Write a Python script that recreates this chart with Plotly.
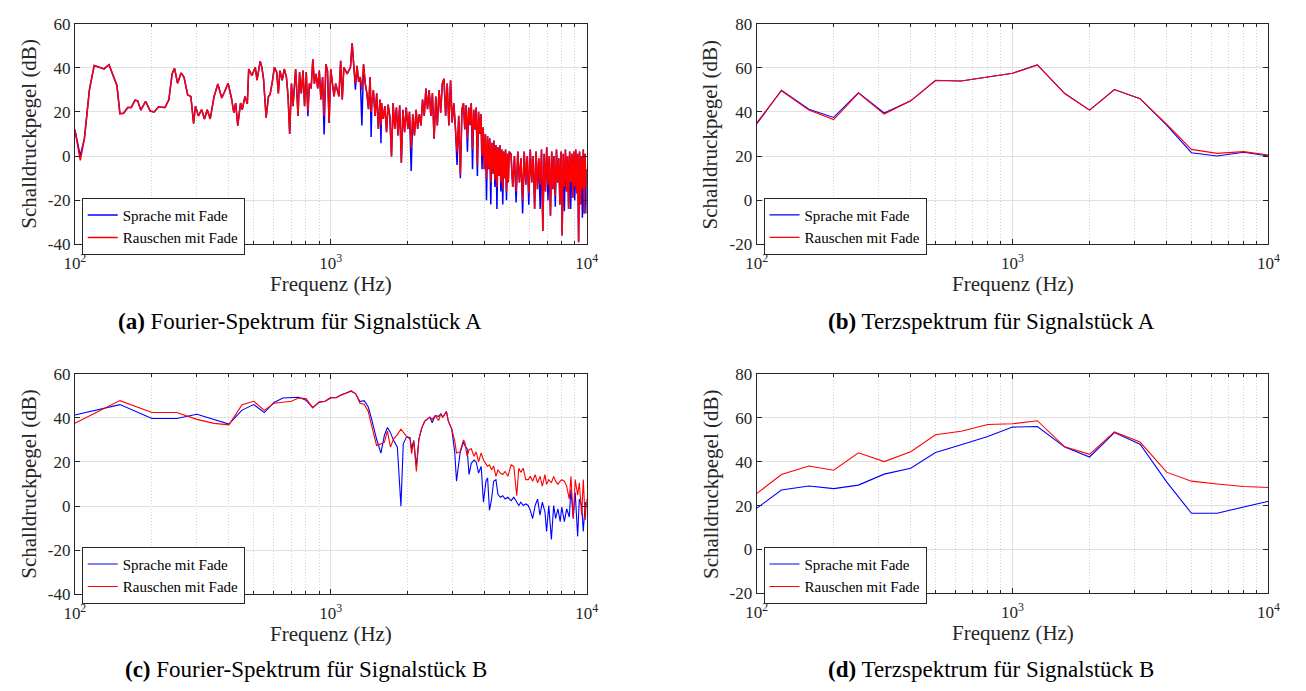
import plotly.graph_objects as go

W, H = 1306, 691
FONT = "Liberation Serif"
TXT = "#262626"

# ---------------- Panel (a): Fourier-Spektrum, Signalstueck A ----------------
freq_a_lo = [100, 105, 109, 114, 119, 125, 130, 136, 141, 146,
             150, 155, 161, 166, 172, 176, 181, 189, 197, 204,
             212, 225, 233, 240, 245, 252, 260, 267, 276, 284,
             291, 296, 304, 313, 321, 329, 338, 350, 362, 375,
             385, 397, 409, 418, 425, 433, 444, 451, 462, 472]
rausch_a_lo = [12, -2, 8, 30, 41, 40, 39.5, 41.4, 37, 32,
               19.2, 19.4, 22, 22, 25.3, 25, 20.8, 24.8, 20.4, 20,
               22.2, 22, 25.5, 37.3, 39.8, 33, 37.6, 35.8, 27.7, 27,
               14.5, 22.6, 18.2, 21, 16.8, 21, 16.8, 27, 32.6, 26.3,
               29.2, 33, 26.3, 19.7, 24, 13.8, 24, 21, 27, 23.7]
sprache_a_lo = [12, 0, 8, 30, 41, 40, 39.5, 41.4, 37, 32,
                19.2, 19.4, 22, 22, 25.3, 25, 20.8, 24.8, 20.4, 20,
                22.2, 22, 25.5, 37.3, 39.8, 33, 37.6, 35.8, 27.7, 27,
                15, 22.6, 18.2, 21, 16.8, 21, 16.8, 27, 32.6, 26.3,
                29.2, 33, 26.3, 19.7, 24, 13.8, 24, 21, 27, 23.7]

freq_a_mid = [478, 492, 507, 515, 530, 538, 546, 559, 571, 579,
              591, 602, 615, 624, 633, 646, 658, 671, 681, 691,
              702, 712, 729, 745, 755, 767, 779, 790, 802, 814,
              825, 838, 851, 863, 876, 889, 902, 915, 929, 942,
              957, 971, 985, 1000, 1015, 1030]
rausch_a_mid = [39.4, 36.5, 40.2, 34.4, 43, 40.2, 35, 17.4, 27, 27.8,
                33.6, 40.2, 38, 28.4, 38.7, 34.3, 39.4, 35.8, 27, 10,
                32.8, 22.6, 39.4, 18.2, 38, 28.4, 38.7, 22.6, 38, 20.4,
                32.8, 30.6, 43.8, 32.8, 37.2, 30.6, 38.7, 25.6, 35.8, 18.2,
                41.6, 38.7, 15, 39.4, 32.8, 27]
sprache_a_mid = [39.4, 36.5, 40.2, 34.4, 43, 40.2, 35, 17.4, 27, 27.8,
                 33.6, 40.2, 38, 28.4, 38.7, 34.3, 39.4, 35.8, 27, 10,
                 32.8, 22.6, 39.4, 18.2, 38, 28.4, 38.7, 22.6, 38, 18,
                 32.8, 30.6, 43.8, 32.8, 37.2, 30.6, 38.7, 25.6, 35.8, 9.8,
                 41.6, 38.7, 15, 39.4, 32.8, 27]

freq_a_hi = [1045, 1076, 1093, 1109, 1125, 1159, 1194, 1212, 1229, 1248,
             1267, 1285, 1304, 1323, 1343, 1364, 1384, 1404, 1425, 1438,
             1447, 1467, 1490, 1512, 1534, 1557, 1571, 1580, 1603, 1627,
             1652, 1675, 1701, 1727, 1752, 1778, 1805, 1831, 1859, 1887,
             1914, 1943, 1972, 2001, 2031, 2062, 2091, 2123, 2155, 2185,
             2219, 2252, 2284, 2319, 2354, 2388, 2424, 2461, 2496, 2534,
             2573, 2609, 2649, 2689, 2728, 2769, 2811, 2851, 2894, 2938,
             2980, 3026, 3071, 3115, 3162, 3210, 3256]
rausch_a_hi = [32.8, 27, 43.1, 25.6, 40.2, 37.2, 40.2, 51.2, 41.6, 32.8,
               40.9, 33.6, 35.8, 30, 41.6, 32.8, 28.4, 21.2, 35.8, 20,
               24, 29.9, 18.2, 28.4, 12.3, 25.6, 14, 24, 16.8, 22.6,
               10.8, 23.3, 18.2, -0.2, 24, 12.3, 22, 9.3, 23, -3.1,
               21, 10.8, 22, 12.3, 20, 3.5, 19, 9.3, 21, 12.3,
               19, 13.8, 25.6, 18.2, 30.6, 21.2, 29.9, 18.2, 28.4, 7.9,
               27, 13.8, 29.9, 19.6, 32.8, 35, 18.2, 32.8, 13.8, 34.3,
               15.2, 24, 12.3, 2, 18.2, -8.3, 21.2]
sprache_a_hi = [32.8, 27, 43.1, 25.6, 40.2, 37.2, 40.2, 51.2, 41.6, 30,
                40.9, 33.6, 35.8, 13.8, 41.6, 32.8, 28.4, 21.2, 35.8, 8.6,
                24, 29.9, 18.2, 28.4, 12.3, 25.6, 5.8, 24, 16.8, 22.6,
                10.8, 23.3, 18.2, -0.2, 24, 12.3, 22, 9.3, 23, -3.1,
                21, 10.8, 22, 12.3, 20, -6.8, 19, 9.3, 21, 12.3,
                19, 13.8, 25.6, 18.2, 30.6, 21.2, 29.9, 18.2, 28.4, 7.9,
                27, 13.8, 29.9, 19.6, 32.8, 35, 18.2, 32.8, 13.8, 34.3,
                15.2, 24, 12.3, -4, 18.2, -10, 21.2]

freq_a_top = [3300, 3340, 3380, 3420, 3460, 3500, 3540, 3580, 3620, 3660,
              3700, 3740, 3780, 3820, 3860, 3900, 3940, 3980, 4020, 4060,
              4100, 4140, 4180, 4220, 4260, 4300, 4340, 4380, 4420, 4460,
              4500, 4540, 4580, 4620, 4660, 4700, 4740, 4780, 4820, 4860,
              4900, 4940, 4980]
rausch_a_top = [24, 12, 23, 8, 22, 14, 24, 3, 21, 12,
                22, -4, 20, 10, 19, 0, 13, -6, 10, -10,
                9, -6, 8, -12, 6, -8, 7, -11, 5, -14,
                4, -9, 5, -12, 3, -15, 2, -10, 3, -16,
                1, -12, 2]
sprache_a_top = [24, 12, 23, 2, 22, 14, 24, -6, 21, 12,
                 22, -9, 20, 10, 19, -6, 13, -6, 10, -20,
                 9, -6, 8, -22, 6, -8, 7, -14, 5, -24,
                 4, -9, 5, -16, 3, -22, 2, -10, 3, -20,
                 1, -12, 2]

freq_a_end = [5060, 5140, 5220, 5300, 5380, 5460, 5540, 5620, 5700, 5780,
              5860, 5940, 6020, 6100, 6180, 6260, 6340, 6420, 6500, 6580,
              6660, 6740, 6820, 6900, 6980, 7060, 7140, 7220, 7300, 7380,
              7460, 7540, 7620, 7700, 7780, 7860, 7940, 8020, 8100, 8180,
              8260, 8340, 8420, 8500, 8580, 8660, 8740, 8820, 8900, 8980,
              9060, 9140, 9220, 9300, 9380, 9460, 9540, 9620, 9700, 9780,
              9860, 9940, 10000]
rausch_a_end = [1, -14, 0, -16, 2, -12, -1, -20, 2, -13,
                0, -17, 3, -12, 0, -24, 2, -15, -1, -13,
                3, -34, 1, -16, 4, -13, 0, -27, 2, -15,
                0, -18, 3, -12, -1, -22, 2, -36, 1, -14,
                3, -16, 0, -24, 2, -12, 1, -19, 2, -14,
                3, -17, 1, -39, 2, -22, 0, -15, 3, -26,
                1, -14, -6]
sprache_a_end = [1, -14, 0, -21, 2, -12, -1, -26, 2, -13,
                 0, -22, 3, -12, 0, -24, 2, -15, -1, -24,
                 3, -34, 1, -16, 4, -20, 0, -27, 2, -15,
                 0, -23, 3, -12, -1, -22, 2, -36, 1, -25,
                 3, -16, 0, -24, 2, -24, 1, -19, 2, -20,
                 3, -17, 1, -39, 2, -22, 0, -28, 3, -26,
                 1, -26, -6]

freq_a = freq_a_lo + freq_a_mid + freq_a_hi + freq_a_top + freq_a_end
sprache_a = sprache_a_lo + sprache_a_mid + sprache_a_hi + sprache_a_top + sprache_a_end
rauschen_a = rausch_a_lo + rausch_a_mid + rausch_a_hi + rausch_a_top + rausch_a_end

# ---------------- Terzbänder (b) und (d) ----------------
terz_freq = [100, 125, 160, 200, 250, 315, 400, 500, 630, 800,
             1000, 1250, 1600, 2000, 2500, 3150, 4000, 5000, 6300, 8000, 10000]
sprache_b = [34.5, 49.8, 41.2, 37.5, 48.7, 39.5, 45, 54.2, 54, 55.8,
             57.5, 61.3, 48.3, 40.8, 50.1, 46, 34, 21.5, 20, 21.7, 20]
rauschen_b = [35, 49.6, 40.8, 36.5, 48.5, 39, 45, 54.3, 54, 55.8,
              57.5, 61.3, 48.3, 40.8, 50.1, 46, 34.5, 23, 21.2, 22, 20.5]
sprache_d = [18.7, 27.1, 28.9, 27.7, 29.3, 34.3, 37, 44.1, 47.7, 51.4,
             55.7, 56, 46.6, 42.1, 53.2, 47.9, 30.8, 16.5, 16.5, 19.5, 22]
rauschen_d = [25.4, 34.1, 38, 36.1, 44, 40, 44.5, 52.2, 53.8, 56.9,
              57.2, 58.6, 46.7, 43.3, 53.5, 48.9, 35.2, 31.1, 29.8, 28.7, 28.2]

# ---------------- Panel (c): Fourier-Spektrum, Signalstueck B ----------------
freq_c = [100, 150, 200, 250, 300, 350, 400, 450, 500, 550,
          600, 650, 700, 750, 800, 850, 900, 950, 1000, 1050,
          1100, 1150, 1200, 1250, 1300, 1350, 1400, 1440, 1510, 1570,
          1620, 1665, 1710, 1760, 1820, 1880, 1920, 1980, 2040, 2070,
          2110, 2160, 2210, 2270, 2330, 2440, 2490, 2560, 2640, 2690,
          2740, 2830, 2880, 2970, 3050, 3100, 3200, 3300, 3340, 3410,
          3470, 3540, 3630, 3700, 3780, 3870, 3950, 4040, 4100, 4170,
          4250, 4330, 4420, 4500, 4600, 4700, 4800, 4920, 5070, 5190,
          5330, 5430, 5530, 5650, 5780, 5910, 6020, 6150, 6290, 6430,
          6570, 6710, 6870, 6970, 7110, 7280, 7430, 7560, 7720, 7880,
          7990, 8180, 8350, 8550, 8680, 8860, 9020, 9220, 9360, 9560,
          9700, 9870, 10000]
sprache_c = [41.3, 46, 39.7, 39.7, 41.6, 39.4, 37.2, 43.5, 46, 42.4,
             47, 49, 49.3, 49.3, 48, 44.6, 47, 47.5, 49, 49.2,
             50.4, 51.3, 52, 51, 47.4, 47.8, 45, 40, 30.4, 24,
             32, 35.6, 33.4, 29.7, 26.8, 0, 28.2, 31.5, 31, 26,
             29.7, 18, 30.4, 35.6, 38.5, 40.3, 37.8, 41, 40.7, 41.8,
             40.3, 42.9, 38.5, 34.9, 24.6, 11.3, 24, 29, 27.5, 26,
             14.3, 19.4, 20.9, 20, 15, 18, 1.8, 11.3, 12.8, -1.9,
             3.2, 11.3, 12, 5.4, 4, 4.7, 3.2, 4, 2.5, 4,
             1.8, 0.3, 1.8, 0.3, 1, 0.3, -1.9, -5.6, 0.3, 3.2,
             -4.1, 1.8, -2.6, -11.5, 0.3, -15.1, 0.3, -5.6, -1.2, -7,
             -0.4, -7, -1.2, -4.9, 7.6, -5.6, 6.2, -13.7, 3.2, 0.3,
             -11.5, 1.8, 0.3]
rauschen_c = [37.6, 47.8, 42.4, 42.4, 39.3, 37.5, 36.8, 46, 47.5, 43.4,
              46.6, 47, 47.5, 49, 48.7, 44.6, 47.2, 47.5, 49.3, 49,
              50.4, 51.3, 52.3, 51, 46.6, 46.2, 43, 37, 27.5, 28.2,
              29, 34, 26.8, 30.4, 32.4, 34.9, 33.4, 31.5, 30.4, 23.8,
              29.7, 15.7, 30.4, 35.6, 38.5, 40.3, 39.3, 41, 38.8, 41.8,
              40.3, 42.9, 38.5, 34.9, 29.7, 24.1, 24.6, 30, 29, 22.6,
              25.6, 26, 22.6, 24.6, 20.1, 24.1, 20.9, 19.4, 18, 18.7,
              16.5, 18.2, 13.5, 16.5, 15, 14.3, 15.7, 13.5, 18.7, 18,
              4.7, 17.2, 15.3, 17.2, 12, 12, 13.5, 11.3, 14.3, 10.6,
              13.5, 9.1, 14.3, 9.9, 12, 10.6, 13.5, 11.3, 9.9, 11.3,
              12, 11.3, 9.1, 3.2, 13.5, -5.6, 12, 5, 10.6, -4.1,
              12, -6.3, 3.2]

# ---------------- Texte ----------------
series_names = ["Sprache mit Fade", "Rauschen mit Fade"]
x_title = "Frequenz (Hz)"
y_title = "Schalldruckpegel (dB)"
captions = ["<b>(a)</b> Fourier-Spektrum für Signalstück A",
            "<b>(b)</b> Terzspektrum für Signalstück A",
            "<b>(c)</b> Fourier-Spektrum für Signalstück B",
            "<b>(d)</b> Terzspektrum für Signalstück B"]
x_tickvals = [100, 1000, 10000]
x_ticktext = ["10<sup>2</sup>", "10<sup>3</sup>", "10<sup>4</sup>"]
x_minor = [200, 300, 400, 500, 600, 700, 800, 900,
           2000, 3000, 4000, 5000, 6000, 7000, 8000, 9000]
y_ticks_fourier = [-40, -20, 0, 20, 40, 60]
y_ticks_terz = [-20, 0, 20, 40, 60, 80]

# ---------------- Layout in Pixeln ----------------
panels = [
    dict(x0=65, x1=586, y0=15, y1=242, yr=[-40, 60], yt=y_ticks_fourier,
         data=(freq_a, sprache_a, rauschen_a), lw=1.5, leg=(72, 194), cap=(294, 321)),
    dict(x0=759, x1=1280, y0=15, y1=242, yr=[-20, 80], yt=y_ticks_terz,
         data=(terz_freq, sprache_b, rauschen_b), lw=1.1, leg=(766, 194), cap=(998, 321)),
    dict(x0=65, x1=586, y0=375, y1=602, yr=[-40, 60], yt=y_ticks_fourier,
         data=(freq_c, sprache_c, rauschen_c), lw=1.1, leg=(72, 553), cap=(300, 679)),
    dict(x0=759, x1=1280, y0=375, y1=601, yr=[-20, 80], yt=y_ticks_terz,
         data=(terz_freq, sprache_d, rauschen_d), lw=1.1, leg=(766, 553), cap=(998, 679)),
]


def fx(p):
    return p / W


def fy(p):
    return 1 - p / H


fig = go.Figure()
layout = dict(width=W, height=H, margin=dict(l=0, r=0, t=0, b=0),
              paper_bgcolor="white", plot_bgcolor="white",
              font=dict(family=FONT, color=TXT), showlegend=True)
annotations = []

for i, p in enumerate(panels):
    n = "" if i == 0 else str(i + 1)
    xa, ya = "x" + n, "y" + n
    leg = "legend" + n
    f, s, r = p["data"]
    fig.add_trace(go.Scatter(x=f, y=s, mode="lines", name=series_names[0],
                             line=dict(color="#0000ff", width=p["lw"]),
                             xaxis=xa, yaxis=ya, legend=leg))
    fig.add_trace(go.Scatter(x=f, y=r, mode="lines", name=series_names[1],
                             line=dict(color="#ff0000", width=p["lw"]),
                             xaxis=xa, yaxis=ya, legend=leg))
    layout["xaxis" + n] = dict(
        type="log", range=[2, 4], domain=[fx(p["x0"]), fx(p["x1"])], anchor=ya,
        tickvals=x_tickvals, ticktext=x_ticktext,
        ticks="inside", ticklen=5, tickcolor=TXT, tickwidth=1,
        showline=True, linecolor=TXT, linewidth=1, mirror="allticks",
        showgrid=True, gridcolor="#e0e0e0", gridwidth=1, zeroline=False,
        tickfont=dict(family=FONT, size=17, color=TXT), ticklabelstandoff=3,
        minor=dict(tickvals=x_minor, ticks="inside", ticklen=3, tickcolor=TXT,
                   showgrid=True, gridcolor="#d2d2d2", griddash="1px,2px", gridwidth=1))
    layout["yaxis" + n] = dict(
        range=p["yr"], domain=[fy(p["y1"]), fy(p["y0"])], anchor=xa,
        tickvals=p["yt"], ticktext=[str(v) for v in p["yt"]],
        ticks="inside", ticklen=5, tickcolor=TXT, tickwidth=1,
        showline=True, linecolor=TXT, linewidth=1, mirror="allticks",
        showgrid=True, gridcolor="#e0e0e0", gridwidth=1, zeroline=False,
        tickfont=dict(family=FONT, size=17, color=TXT))
    layout[leg] = dict(x=fx(p["leg"][0]), y=fy(p["leg"][1]), xanchor="left", yanchor="top",
                       bgcolor="white", bordercolor=TXT, borderwidth=1,
                       font=dict(family=FONT, size=15, color="#000"),
                       itemwidth=30, tracegroupgap=0)
    xc = (p["x0"] + p["x1"]) / 2
    yc = (p["y0"] + p["y1"]) / 2
    annotations.append(dict(text=x_title, x=fx(xc), y=fy(p["y1"] + 41), xref="paper", yref="paper",
                            xanchor="center", yanchor="middle", showarrow=False,
                            font=dict(family=FONT, size=21, color=TXT)))
    annotations.append(dict(text=y_title, x=fx(p["x0"] - 47), y=fy(yc), xref="paper", yref="paper",
                            xanchor="center", yanchor="middle", showarrow=False, textangle=-90,
                            font=dict(family=FONT, size=21, color=TXT)))
    annotations.append(dict(text=captions[i], x=fx(p["cap"][0]), y=fy(p["cap"][1]),
                            xref="paper", yref="paper", xanchor="center", yanchor="middle",
                            showarrow=False, font=dict(family=FONT, size=23, color="#000")))

layout["annotations"] = annotations
fig.update_layout(**layout)
fig.write_html("out.html")
